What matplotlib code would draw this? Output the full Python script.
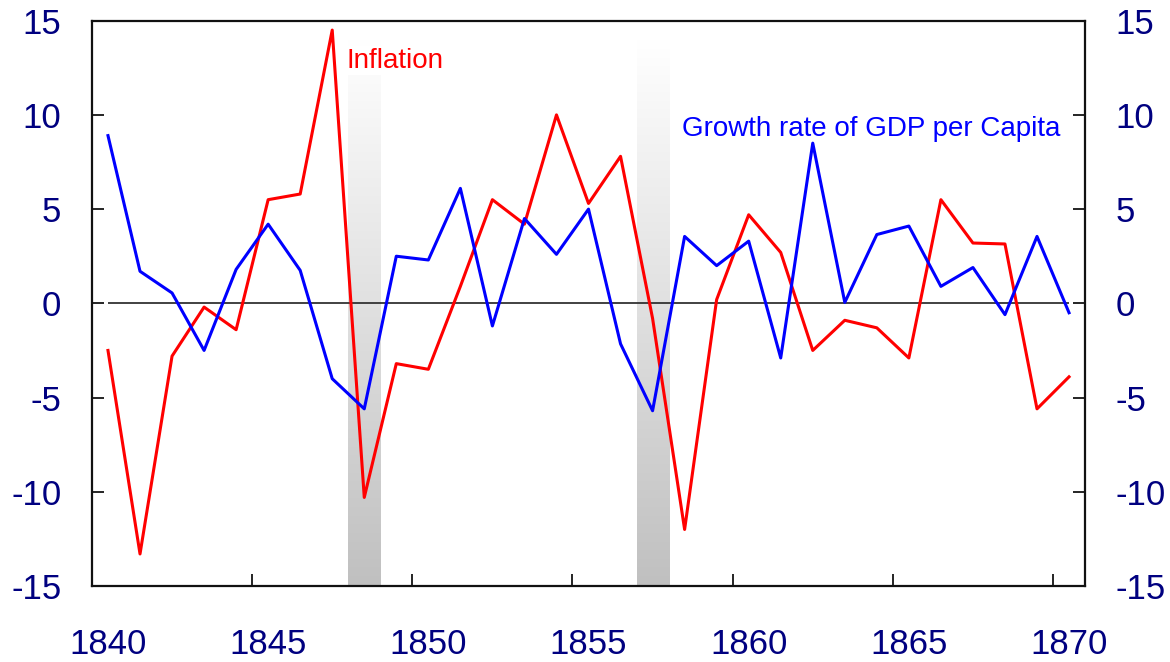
import numpy as np
import matplotlib
matplotlib.use("Agg")
import matplotlib.pyplot as plt
from matplotlib.colors import LinearSegmentedColormap

plt.rcParams['font.family'] = ['Liberation Sans', 'DejaVu Sans']
plt.rcParams['axes.unicode_minus'] = False

# annual data, plotted at mid-year
years = np.arange(1840, 1871)
inflation = [-2.5, -13.3, -2.8, -0.2, -1.4, 5.5, 5.8, 14.5, -10.3, -3.2,
             -3.5, 0.9, 5.5, 4.2, 10.0, 5.3, 7.8, -0.8, -12.0, 0.2,
             4.7, 2.7, -2.5, -0.9, -1.3, -2.9, 5.5, 3.2, 3.15, -5.6, -3.9]
gdp_growth = [8.9, 1.7, 0.55, -2.5, 1.8, 4.2, 1.75, -4.0, -5.6, 2.5,
              2.3, 6.1, -1.2, 4.5, 2.6, 5.0, -2.15, -5.7, 3.55, 2.0,
              3.3, -2.9, 8.5, 0.05, 3.65, 4.1, 0.9, 1.9, -0.6, 3.55, -0.5]
crisis_years = [1848, 1857]
tick_years = [1840, 1845, 1850, 1855, 1860, 1865, 1870]
label_col = '#000080'

fig = plt.figure(figsize=(11.7, 6.62), dpi=100)
ax = fig.add_axes([0.0786, 0.1148, 0.8488, 0.854])

x = years + 0.5

# shaded crisis bands, white at top to grey at bottom
grey = LinearSegmentedColormap.from_list('g', ['#c0c0c0', '#ffffff'])
grad = np.linspace(0, 1, 256).reshape(-1, 1)
for yr in crisis_years:
    ax.imshow(grad, extent=[yr, yr + 1, -15, 14], origin='lower', cmap=grey,
              aspect='auto', zorder=1)

ax.hlines(0, x[0], x[-1], color='#333333', lw=1.3, zorder=2)
ax.plot(x, inflation, color='#ff0000', lw=2.2, zorder=3)
ax.plot(x, gdp_growth, color='#0000ff', lw=2.2, zorder=3)

ax.text(1847.95, 12.5, 'Inflation', color='#ff0000', fontsize=20, va='baseline',
        zorder=4, bbox=dict(facecolor='white', edgecolor='none', pad=1))
ax.text(1858.43, 8.9, 'Growth rate of GDP per Capita', color='#0000ff',
        fontsize=20, va='baseline', zorder=4)

ax.set_xlim(1840, 1871)
ax.set_ylim(-15, 15)

# tick marks on the years, labels centred on mid-year
ax.set_xticks(tick_years)
ax.set_xticklabels([])
ax.set_xticks([t + 0.5 for t in tick_years], minor=True)
ax.set_xticklabels([str(t) for t in tick_years], minor=True)
ax.tick_params(axis='x', which='major', direction='in', length=8.6, width=1.2)
ax.tick_params(axis='x', which='minor', length=0, pad=30, labelsize=25,
               labelcolor=label_col)

ax.set_yticks(np.arange(-15, 16, 5))
ax.tick_params(axis='y', direction='in', length=8.6, width=1.2, left=True,
               right=True, labelleft=True, labelright=True, pad=22,
               labelsize=25, labelcolor=label_col)

for s in ax.spines.values():
    s.set_linewidth(1.6)
    s.set_color('#111111')

fig.savefig('out.png', dpi=100)
